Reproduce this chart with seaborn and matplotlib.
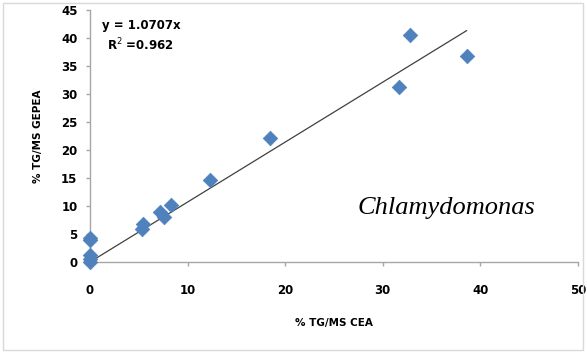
import numpy as np
import pandas as pd
import matplotlib
matplotlib.use("Agg")
import matplotlib.pyplot as plt
import seaborn as sns
from matplotlib.patches import Rectangle

# TG content (% of dry mass) measured by the two methods
cea = [0.0, 0.0, 0.0, 0.0, 0.05, 5.4, 5.3, 7.2, 7.6, 8.3, 12.3, 18.4, 31.7, 32.8, 38.6]
gepea = [4.2, 1.3, 0.6, 0.0, 4.0, 6.8, 5.9, 9.0, 8.1, 10.1, 14.6, 22.1, 31.2, 40.5, 36.8]
slope = 1.0707
r2 = 0.962
x_ticks = [0, 10, 20, 30, 40, 50]
y_ticks = [0, 5, 10, 15, 20, 25, 30, 35, 40, 45]

df = pd.DataFrame({"CEA": cea, "GEPEA": gepea})

sns.set_theme(style="white")
plt.rcParams["font.family"] = ["DejaVu Sans"]
plt.rcParams["text.color"] = "black"
plt.rcParams["axes.labelcolor"] = "black"
plt.rcParams["xtick.labelcolor"] = "black"
plt.rcParams["ytick.labelcolor"] = "black"

fig = plt.figure(figsize=(5.87, 3.53), dpi=100)
ax = fig.add_axes([90 / 587, 1 - 262 / 353, (578 - 90) / 587, (262 - 10) / 353])

# light frame around the whole chart
fig.patches.append(Rectangle((3 / 587, 3 / 353), 580 / 587, 347 / 353,
                             transform=fig.transFigure, fill=False,
                             edgecolor="#d9d9d9", linewidth=1.0))

# linear trend through the origin
xfit = np.array([0.0, max(cea)])
ax.plot(xfit, slope * xfit, color="#404040", linewidth=0.9, zorder=2)

sns.scatterplot(data=df, x="CEA", y="GEPEA", marker="D", s=55,
                color="#4F81BD", edgecolor="#4F81BD", linewidth=0.5,
                ax=ax, zorder=3, clip_on=False)

ax.set_xlim(0, 50)
ax.set_ylim(0, 45)
ax.set_xticks(x_ticks)
ax.set_yticks(y_ticks)

for side in ["top", "right"]:
    ax.spines[side].set_visible(False)
for side in ["left", "bottom"]:
    ax.spines[side].set_color("#a6a6a6")
    ax.spines[side].set_linewidth(1.0)

ax.tick_params(axis="x", direction="out", length=3, width=1, color="#a6a6a6",
               pad=13, labelsize=8.5, labelcolor="black")
ax.tick_params(axis="y", direction="out", length=3, width=1, color="#a6a6a6",
               pad=6, labelsize=8.5, labelcolor="black")
ax.xaxis.set_ticks_position("bottom")
ax.yaxis.set_ticks_position("left")
for lab in ax.get_xticklabels() + ax.get_yticklabels():
    lab.set_fontweight("bold")

ax.set_xlabel("% TG/MS CEA", fontsize=7.5, fontweight="bold", labelpad=15,
              color="black")
ax.set_ylabel("% TG/MS GEPEA", fontsize=7.5, fontweight="bold", labelpad=13,
              color="black")

ax.text(0.105, 0.94, f"y = {slope}x", transform=ax.transAxes,
        fontsize=8.5, fontweight="bold", ha="center", va="center", color="black")
ax.text(0.103, 0.861, f"R$^2$ =0.{str(r2).split('.')[1]}", transform=ax.transAxes,
        fontsize=8.5, fontweight="bold", ha="center", va="center", color="black")

ax.text(0.73, 0.215, "Chlamydomonas", transform=ax.transAxes,
        fontsize=19, fontstyle="italic", family=["Liberation Serif"],
        ha="center", va="center", color="black")

fig.savefig("out.png", dpi=100)
